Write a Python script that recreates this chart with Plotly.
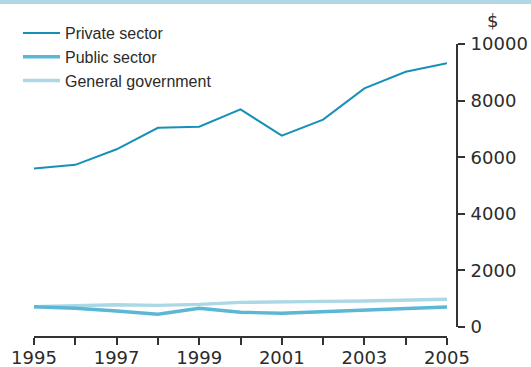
import plotly.graph_objects as go

# Annual figures, dollars
years = [1995, 1996, 1997, 1998, 1999, 2000, 2001, 2002, 2003, 2004, 2005]
private_sector = [5600, 5730, 6280, 7040, 7080, 7690, 6760, 7330, 8430, 9020, 9320]
public_sector = [715, 660, 565, 450, 660, 520, 485, 540, 590, 625, 705]
general_government = [715, 740, 785, 765, 800, 870, 875, 905, 920, 965, 980]

x_tick_values = years
x_tick_labels = ["1995", "", "1997", "", "1999", "", "2001", "", "2003", "", "2005"]
y_tick_values = [0, 2000, 4000, 6000, 8000, 10000]
y_tick_labels = ["0", "2000", "4000", "6000", "8000", "10000"]

W, H = 531, 367
ML, MR, MT, MB = 34, 74, 44, 30
PW, PH = W - ML - MR, H - MT - MB

TEXT = "#2b2b2b"
AXIS = "#333333"


def px_x(px):
    return (px - ML) / PW


def px_y(py):
    return (H - MB - py) / PH


fig = go.Figure()

fig.add_trace(go.Scatter(
    x=years, y=general_government, name="General government", mode="lines",
    line=dict(color="#acd8e6", width=3.4), legendrank=3,
))
fig.add_trace(go.Scatter(
    x=years, y=public_sector, name="Public sector", mode="lines",
    line=dict(color="#5bb7d4", width=3.4), legendrank=2,
))
fig.add_trace(go.Scatter(
    x=years, y=private_sector, name="Private sector", mode="lines",
    line=dict(color="#1790b9", width=2), legendrank=1,
))

fig.update_layout(
    width=W, height=H,
    margin=dict(l=ML, r=MR, t=MT, b=MB, pad=0, autoexpand=False),
    paper_bgcolor="white", plot_bgcolor="white",
    font=dict(family="Liberation Sans, Arial, sans-serif", color=TEXT, size=16),
    showlegend=True,
    legend=dict(
        x=px_x(18), y=px_y(16), xanchor="left", yanchor="top",
        bgcolor="rgba(0,0,0,0)", borderwidth=0,
        font=dict(size=16, color=TEXT), tracegroupgap=0, itemwidth=37,
    ),
    xaxis=dict(
        domain=[0, (447 - ML) / PW], range=[1995, 2005],
        anchor="free", position=0, automargin=False,
        showline=True, linecolor=AXIS, linewidth=2,
        ticks="outside", ticklen=7, tickwidth=2, tickcolor=AXIS,
        tickvals=x_tick_values, ticktext=x_tick_labels, ticklabelstandoff=-3,
        tickfont=dict(family="DejaVu Sans, sans-serif", size=18, color=TEXT),
        showgrid=False, zeroline=False, fixedrange=True,
    ),
    yaxis=dict(
        domain=[(337 - 327) / PH, 1], range=[0, 10000],
        side="right", anchor="free", position=1, automargin=False,
        showline=True, linecolor=AXIS, linewidth=2,
        ticks="outside", ticklen=7, tickwidth=2, tickcolor=AXIS,
        tickvals=y_tick_values, ticktext=y_tick_labels, ticklabelstandoff=2,
        tickfont=dict(family="DejaVu Sans, sans-serif", size=18, color=TEXT),
        showgrid=False, zeroline=False, fixedrange=True,
    ),
    annotations=[dict(
        text="$", xref="paper", yref="paper", x=px_x(493), y=px_y(21),
        xanchor="center", yanchor="middle", showarrow=False,
        font=dict(family="DejaVu Sans, sans-serif", size=18, color=TEXT),
    )],
    shapes=[dict(
        type="rect", xref="paper", yref="paper",
        x0=px_x(0), x1=px_x(W), y0=px_y(4), y1=px_y(0),
        fillcolor="#afd7e5", line=dict(width=0), layer="above",
    )],
)

fig.write_html("out.html")
